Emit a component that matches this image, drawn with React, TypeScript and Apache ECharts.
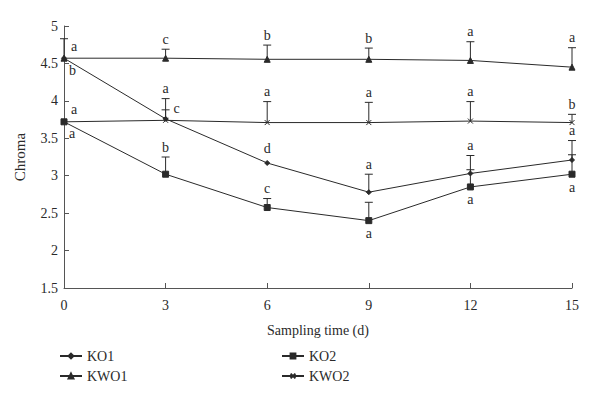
import React, { useEffect, useRef } from "react";
import * as echarts from "echarts";

const days = [0, 3, 6, 9, 12, 15];

const ko1 = [4.57, 3.76, 3.17, 2.78, 3.03, 3.21];
const ko1Err = [0, 0.12, 0, 0.24, 0.24, 0.26];
const ko1Letters = ["b", "c", "d", "a", "a", "a"];
const ko1Pos = ["rightBottom", "right", "top", "top", "top", "top"];

const ko2 = [3.72, 3.02, 2.575, 2.4, 2.85, 3.02];
const ko2Err = [0, 0.23, 0.12, 0.245, 0.23, 0.26];
const ko2Letters = ["a", "b", "c", "a", "a", "a"];
const ko2Pos = ["rightBottom", "top", "top", "bottom", "bottom", "bottom"];

const kwo1 = [4.57, 4.57, 4.555, 4.555, 4.54, 4.45];
const kwo1Err = [0.26, 0.12, 0.19, 0.15, 0.25, 0.26];
const kwo1Letters = ["a", "c", "b", "b", "a", "a"];
const kwo1Pos = ["rightTop", "top", "top", "top", "top", "top"];

const kwo2 = [3.72, 3.74, 3.71, 3.71, 3.73, 3.71];
const kwo2Err = [0, 0.29, 0.28, 0.27, 0.26, 0.11];
const kwo2Letters = ["a", "a", "a", "a", "a", "b"];
const kwo2Pos = ["rightTop", "top", "top", "top", "top", "top"];

const FONT = "'Liberation Serif', 'DejaVu Serif', serif";
const INK = "#2a2a2a";
const AXIS = "#555";

function errSeries(name: string, vals: number[], errs: number[], letters: string[], pos: string[]) {
  return {
    type: "custom",
    name: name + "_err",
    z: 1,
    silent: true,
    data: days.map((d, i) => [d, vals[i], errs[i]]),
    renderItem: (params: any, api: any) => {
      const i = params.dataIndex;
      const x = api.value(0);
      const y = api.value(1);
      const e = api.value(2);
      const p = api.coord([x, y]);
      const t = api.coord([x, y + e]);
      const children: any[] = [];
      if (e > 0) {
        children.push({
          type: "line",
          shape: { x1: p[0], y1: p[1], x2: t[0], y2: t[1] },
          style: { stroke: INK, lineWidth: 1 },
        });
        children.push({
          type: "line",
          shape: { x1: t[0] - 4, y1: t[1], x2: t[0] + 4, y2: t[1] },
          style: { stroke: INK, lineWidth: 1 },
        });
      }
      const ps = pos[i];
      let tx = p[0], ty = p[1], align = "center", va = "middle";
      if (ps === "top") { tx = t[0]; ty = (e > 0 ? t[1] : p[1] - 4) - 3; va = "bottom"; }
      else if (ps === "bottom") { ty = p[1] + 6; va = "top"; }
      else if (ps === "right") { tx = p[0] + 8; ty = p[1] - 10; align = "left"; }
      else if (ps === "rightTop") { tx = p[0] + 7; ty = p[1] - 5; align = "left"; va = "bottom"; }
      else if (ps === "rightBottom") { tx = p[0] + 5; ty = p[1] + 5; align = "left"; va = "top"; }
      children.push({
        type: "text",
        x: tx,
        y: ty,
        style: {
          text: letters[i],
          fill: INK,
          font: "14px " + FONT,
          align,
          verticalAlign: va,
        },
      });
      return { type: "group", children };
    },
  };
}

function lineSeries(name: string, vals: number[], symbol: string, size: number) {
  return {
    type: "line",
    name,
    z: 3,
    data: days.map((d, i) => [d, vals[i]]),
    symbol,
    symbolSize: size,
    showAllSymbol: true,
    lineStyle: { color: INK, width: 1 },
    itemStyle: { color: INK, borderColor: INK, borderWidth: 1 },
  };
}

export default function App() {
  const ref = useRef<HTMLDivElement>(null);
  useEffect(() => {
    document.body.style.margin = "0";
    const chart = echarts.init(ref.current!, null, { renderer: "svg" });
    const legendText = { fontFamily: FONT, fontSize: 14, color: INK };
    chart.setOption({
      animation: false,
      backgroundColor: "#fff",
      textStyle: { fontFamily: FONT },
      grid: { left: 64, right: 28, top: 26, bottom: 109 },
      legend: [
        {
          data: ["KO1", "KWO1"],
          orient: "vertical",
          left: 54,
          top: 344,
          itemWidth: 22,
          itemHeight: 6,
          itemGap: 6,
          textStyle: legendText,
        },
        {
          data: ["KO2", "KWO2"],
          orient: "vertical",
          left: 276,
          top: 344,
          itemWidth: 22,
          itemHeight: 6,
          itemGap: 6,
          textStyle: legendText,
        },
      ],
      xAxis: {
        type: "value",
        min: 0,
        max: 15,
        interval: 3,
        name: "Sampling time (d)",
        nameLocation: "middle",
        nameGap: 35,
        nameTextStyle: { fontFamily: FONT, fontSize: 14, color: INK },
        axisLine: { show: true, lineStyle: { color: AXIS } },
        axisTick: { show: true, inside: true, length: 5, lineStyle: { color: AXIS } },
        axisLabel: { fontFamily: FONT, fontSize: 14, color: INK, margin: 10 },
        splitLine: { show: false },
      },
      yAxis: {
        type: "value",
        min: 1.5,
        max: 5,
        interval: 0.5,
        name: "Chroma",
        nameLocation: "middle",
        nameGap: 37,
        nameTextStyle: { fontFamily: FONT, fontSize: 15, color: INK },
        axisLine: { show: true, lineStyle: { color: AXIS } },
        axisTick: { show: true, inside: true, length: 5, lineStyle: { color: AXIS } },
        axisLabel: { fontFamily: FONT, fontSize: 14, color: INK, margin: 6 },
        splitLine: { show: false },
      },
      series: [
        lineSeries("KO1", ko1, "diamond", 5),
        lineSeries("KO2", ko2, "rect", 6),
        lineSeries("KWO1", kwo1, "triangle", 6),
        lineSeries("KWO2", kwo2, "path://M0 0L10 10M10 0L0 10", 5),
        errSeries("KO1", ko1, ko1Err, ko1Letters, ko1Pos),
        errSeries("KO2", ko2, ko2Err, ko2Letters, ko2Pos),
        errSeries("KWO1", kwo1, kwo1Err, kwo1Letters, kwo1Pos),
        errSeries("KWO2", kwo2, kwo2Err, kwo2Letters, kwo2Pos),
      ],
    });
    return () => chart.dispose();
  }, []);
  return <div ref={ref} style={{ width: 600, height: 397 }} />;
}
